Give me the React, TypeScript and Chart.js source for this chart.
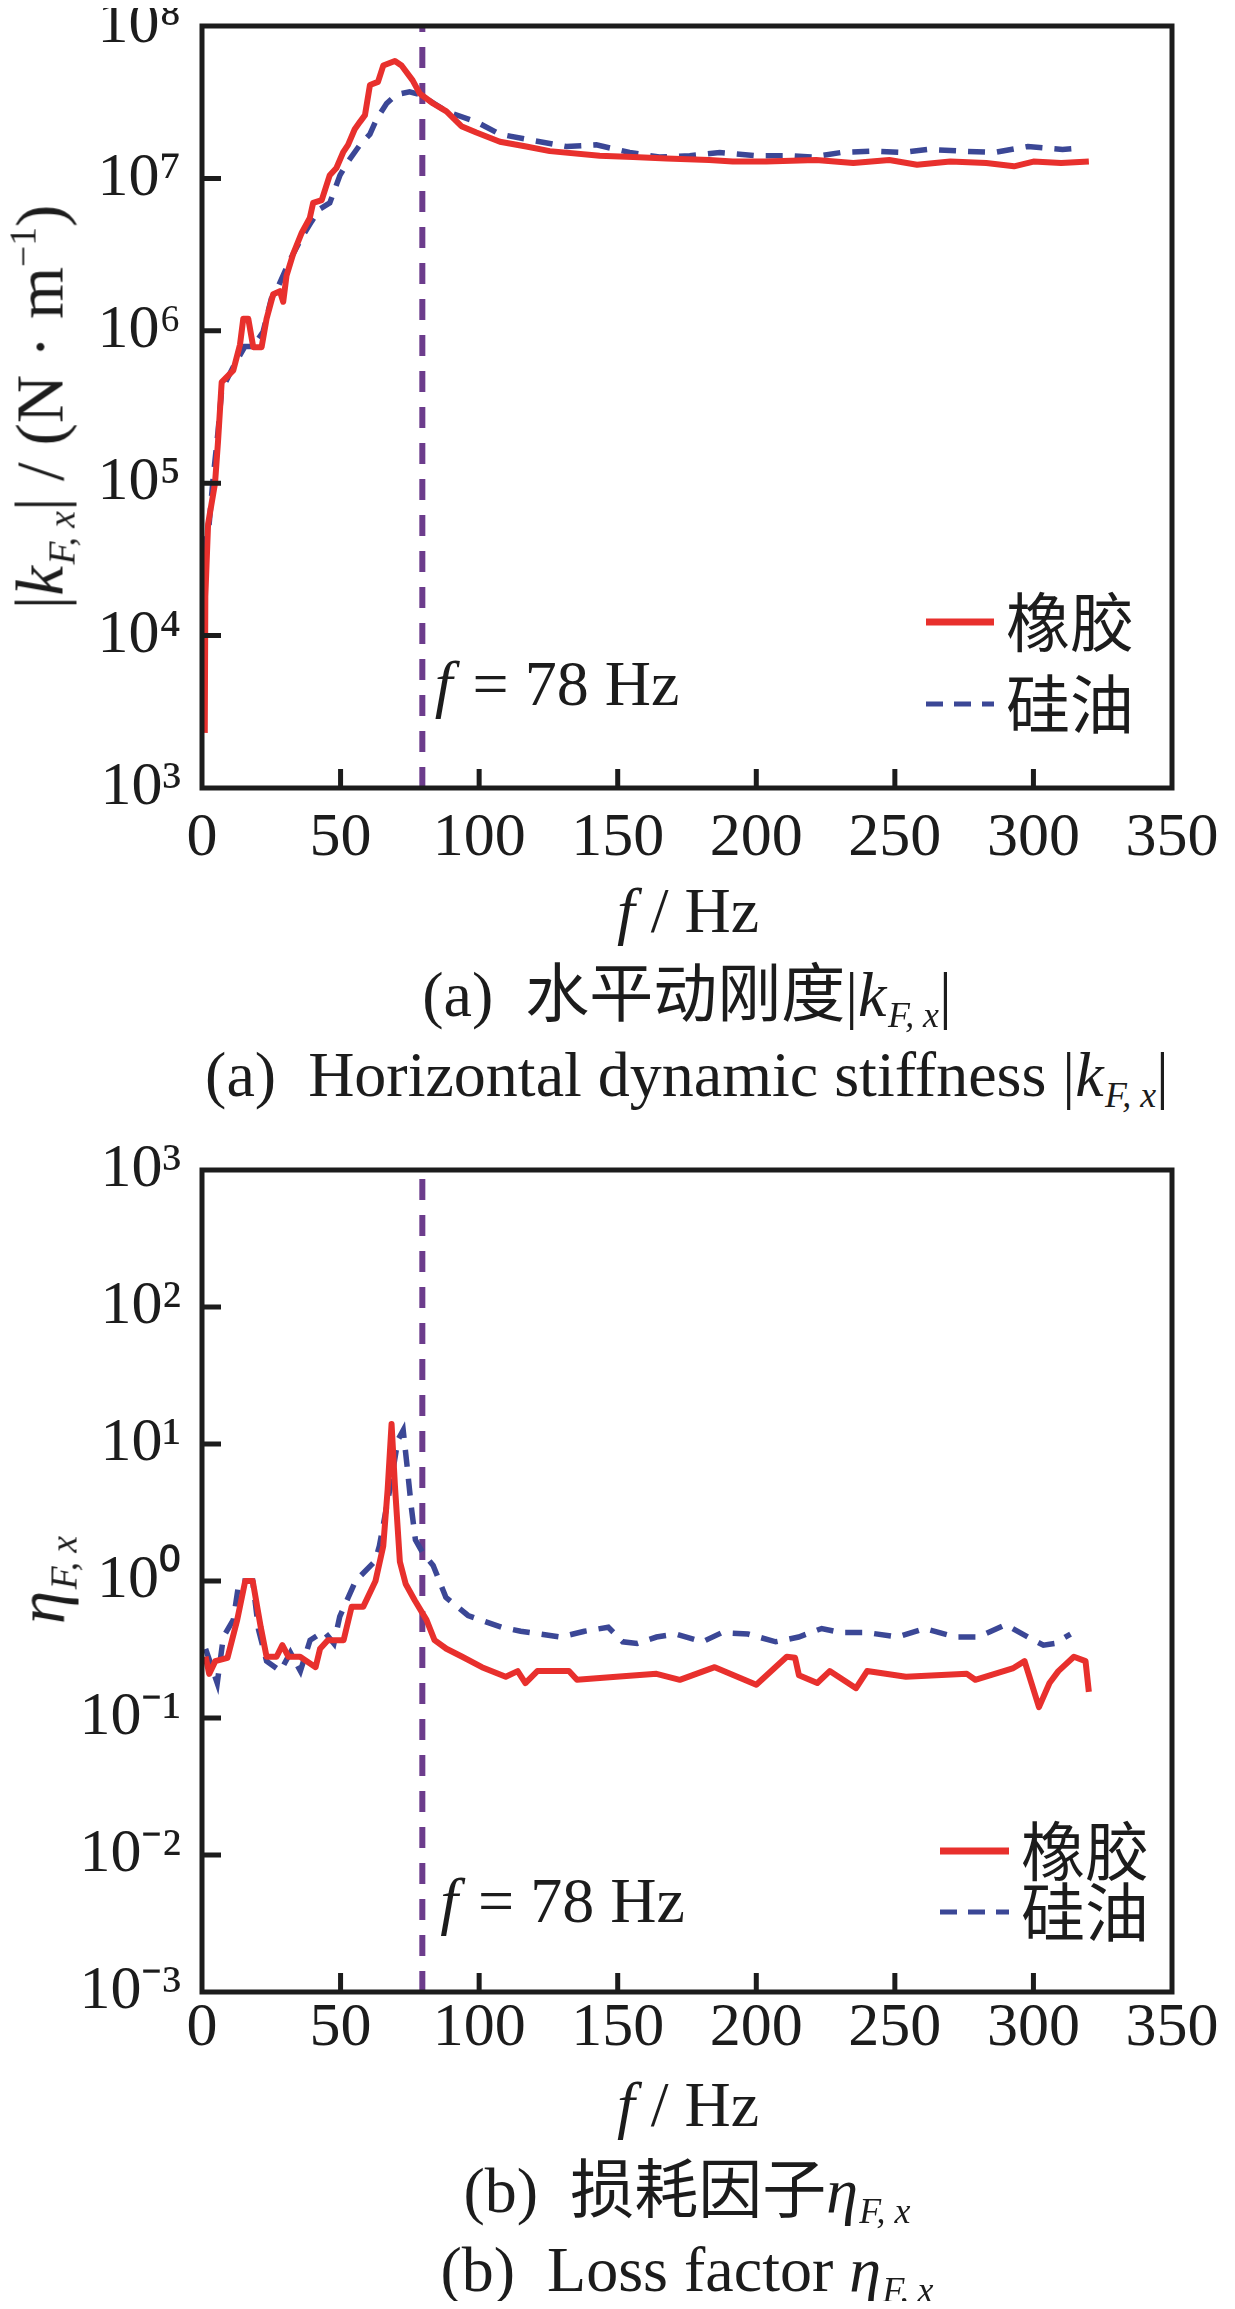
import React, { useEffect, useRef } from 'react';
import { Chart, registerables } from 'chart.js';

Chart.register(...registerables);

// ---------------- data ----------------
const freqTicks = [0, 50, 100, 150, 200, 250, 300, 350];
const stiffnessTicks = [1e3, 1e4, 1e5, 1e6, 1e7, 1e8];
const lossTicks = [1e-3, 1e-2, 1e-1, 1e0, 1e1, 1e2, 1e3];
const seriesNames = ['橡胶', '硅油'];
const resonanceFreq = [79.5];
const resonanceLabel = '78';

// (a) horizontal dynamic stiffness |k_F,x| (N/m)
const rubberStiffFreq = [1.0, 1.2, 2.2, 4.7, 5.8, 7.1, 11.3, 13.7, 14.9, 16.7, 18.5, 21.5, 23.3, 25.7, 28.1, 29.3, 30.5, 32.9, 36, 38.9, 40.1, 43.2, 46.1, 48.5, 50.9, 52.7, 55.1, 57, 58.8, 60.6, 63.5, 65.4, 69.6, 72, 76, 78.6, 83.4, 88.2, 93.6, 99, 107.5, 117, 125.5, 143.5, 155.5, 167.6, 183, 191.5, 203.6, 221.6, 235, 248, 258, 270, 283, 293, 300, 310, 320];
const rubberStiffValue = [2.3e3, 1.8e4, 5.4e4, 1.0e5, 1.9e5, 4.6e5, 5.5e5, 8.1e5, 1.2e6, 1.2e6, 7.8e5, 7.8e5, 1.2e6, 1.74e6, 1.82e6, 1.55e6, 2.3e6, 3.2e6, 4.4e6, 5.5e6, 6.9e6, 7.2e6, 1.05e7, 1.17e7, 1.48e7, 1.66e7, 2.1e7, 2.35e7, 2.6e7, 4.1e7, 4.3e7, 5.5e7, 5.9e7, 5.5e7, 4.4e7, 3.6e7, 3.1e7, 2.75e7, 2.2e7, 2.0e7, 1.74e7, 1.62e7, 1.51e7, 1.41e7, 1.38e7, 1.35e7, 1.32e7, 1.29e7, 1.29e7, 1.32e7, 1.26e7, 1.32e7, 1.23e7, 1.29e7, 1.26e7, 1.2e7, 1.29e7, 1.26e7, 1.29e7];
const oilStiffFreq = [0.6, 0.9, 2.5, 4.0, 5.8, 7.1, 11.3, 15.5, 18.5, 22, 25, 27.5, 31.7, 36, 39.5, 42.5, 46.1, 49.8, 52.7, 57, 60.6, 63, 66.6, 70.2, 74.9, 78.6, 88.2, 99, 107.5, 119, 131.5, 142.3, 154.3, 165, 176, 186.8, 200, 212, 220, 230.8, 241.6, 252.4, 262, 274, 286, 298, 310.5, 316];
const oilStiffValue = [2.5e3, 4.0e4, 5.2e4, 1.07e5, 2.2e5, 4.1e5, 5.8e5, 7.9e5, 7.9e5, 9.8e5, 1.62e6, 1.95e6, 2.9e6, 4.1e6, 5.2e6, 6.3e6, 6.9e6, 1.05e7, 1.29e7, 1.66e7, 1.95e7, 2.45e7, 3.1e7, 3.55e7, 3.7e7, 3.55e7, 2.75e7, 2.35e7, 1.95e7, 1.78e7, 1.62e7, 1.66e7, 1.48e7, 1.38e7, 1.41e7, 1.48e7, 1.41e7, 1.41e7, 1.38e7, 1.48e7, 1.51e7, 1.48e7, 1.55e7, 1.51e7, 1.48e7, 1.62e7, 1.55e7, 1.58e7];

// (b) loss factor eta_F,x
const rubberLossFreq = [1.3, 2.6, 4.8, 9.2, 12.7, 15.6, 18.3, 21.2, 23.3, 26.9, 29, 31.2, 35.4, 41, 42.6, 45.4, 51.1, 54, 58.2, 62.6, 65.4, 67, 68.4, 69.6, 71.4, 73.5, 76.8, 81, 83.9, 88.2, 93.9, 101, 109.6, 113.9, 116.7, 121, 132.4, 135.3, 149.5, 164, 172.4, 185, 200, 211, 214, 215.4, 222, 226.5, 236, 240, 254, 276, 279, 292.5, 296.8, 302, 305.8, 309, 314.6, 318.8, 320];
const rubberLossValue = [0.28, 0.21, 0.26, 0.275, 0.52, 1.0, 1.0, 0.46, 0.28, 0.28, 0.34, 0.28, 0.28, 0.235, 0.32, 0.37, 0.37, 0.65, 0.65, 1.0, 1.8, 4.7, 14, 5.0, 1.38, 0.95, 0.72, 0.52, 0.37, 0.32, 0.28, 0.235, 0.2, 0.22, 0.18, 0.22, 0.22, 0.19, 0.2, 0.21, 0.19, 0.235, 0.175, 0.28, 0.275, 0.205, 0.18, 0.22, 0.165, 0.22, 0.2, 0.21, 0.19, 0.23, 0.26, 0.12, 0.18, 0.22, 0.28, 0.26, 0.155];
const oilLossFreq = [1.3, 5.5, 7.7, 11.3, 13.4, 18.3, 20.4, 23.3, 28.3, 31.9, 35.5, 39, 44, 47.6, 49.7, 55.4, 62.5, 64, 67.8, 70.7, 72.6, 74, 75.5, 77, 79.7, 83.4, 88, 96, 108, 115, 129.5, 138, 146.6, 151.8, 157, 164, 171, 180.6, 187.6, 197, 207, 215.3, 223.6, 230.5, 240, 251, 260.7, 272, 280, 290, 298, 303.6, 307.6, 313.4];
const oilLossValue = [0.32, 0.18, 0.39, 0.52, 1.0, 1.0, 0.44, 0.26, 0.22, 0.3, 0.22, 0.37, 0.43, 0.35, 0.55, 1.0, 1.4, 1.8, 4.7, 10.7, 12.6, 6.9, 3.5, 2.0, 1.6, 1.3, 0.76, 0.56, 0.46, 0.43, 0.39, 0.43, 0.46, 0.36, 0.35, 0.39, 0.41, 0.36, 0.42, 0.41, 0.36, 0.39, 0.45, 0.42, 0.42, 0.39, 0.45, 0.39, 0.39, 0.48, 0.39, 0.34, 0.35, 0.41];

// ---------------- styling ----------------
const INK = '#1c1c1c';
const RED = '#e8302d';
const BLUE = '#3b4796';
const PURPLE = '#6c3c8c';
const SERIF = "'Liberation Serif', 'Times New Roman', serif";
const CJK = "'Noto Sans CJK SC', 'Noto Sans CJK JP', sans-serif";

Chart.defaults.font.family = SERIF;

const SUP: Record<string, string> = { '-': '⁻', '0': '⁰', '1': '¹', '2': '²', '3': '³', '4': '⁴', '5': '⁵', '6': '⁶', '7': '⁷', '8': '⁸', '9': '⁹' };
const pow10 = (v: number) => {
  const e = Math.round(Math.log10(v));
  return '10' + String(e).split('').map((c) => SUP[c]).join('');
};
const toPoints = (f: number[], v: number[]) => f.map((x, i) => ({ x, y: v[i] }));

type PanelCfg = {
  pageTop: number;
  canvasH: number;
  padTop: number;
  axisH: number;
  xLabelPad: number;
  yMin: number;
  yMax: number;
  yTicks: number[];
  rubber: { f: number[]; v: number[] };
  oil: { f: number[]; v: number[] };
  legend: { x0: number; x1: number; tx: number; r1: number; r2: number };
  note: { f: number; v: number };
};

const topCfg: PanelCfg = {
  pageTop: 0,
  canvasH: 900,
  padTop: 26,
  axisH: 112,
  xLabelPad: 20,
  yMin: 1e3,
  yMax: 1e8,
  yTicks: stiffnessTicks,
  rubber: { f: rubberStiffFreq, v: rubberStiffValue },
  oil: { f: oilStiffFreq, v: oilStiffValue },
  legend: { x0: 246, x1: 178, tx: 166, r1: 166, r2: 84 },
  note: { f: 84, v: 4900 },
};

const bottomCfg: PanelCfg = {
  pageTop: 1130,
  canvasH: 960,
  padTop: 40,
  axisH: 98,
  xLabelPad: 6,
  yMin: 1e-3,
  yMax: 1e3,
  yTicks: lossTicks,
  rubber: { f: rubberLossFreq, v: rubberLossValue },
  oil: { f: oilLossFreq, v: oilLossValue },
  legend: { x0: 232, x1: 163, tx: 151, r1: 141, r2: 80 },
  note: { f: 86, v: 0.0047 },
};

function decorPlugin(cfg: PanelCfg) {
  return {
    id: 'decor',
    afterDatasetsDraw(chart: any) {
      const { ctx, chartArea: a } = chart;
      const xs = chart.scales.x;
      const ys = chart.scales.y;
      ctx.save();
      ctx.setLineDash([]);
      ctx.strokeStyle = INK;
      ctx.lineWidth = 5;
      ctx.lineCap = 'butt';
      ctx.beginPath();
      cfg.yTicks.slice(1, -1).forEach((v) => {
        const y = ys.getPixelForValue(v);
        ctx.moveTo(a.left, y);
        ctx.lineTo(a.left + 19, y);
      });
      freqTicks.slice(1, -1).forEach((v) => {
        const x = xs.getPixelForValue(v);
        ctx.moveTo(x, a.bottom);
        ctx.lineTo(x, a.bottom - 19);
      });
      ctx.stroke();
      ctx.strokeRect(a.left, a.top, a.right - a.left, a.bottom - a.top);

      // legend
      const L = cfg.legend;
      ctx.lineWidth = 7;
      ctx.strokeStyle = RED;
      ctx.beginPath();
      ctx.moveTo(a.right - L.x0, a.bottom - L.r1);
      ctx.lineTo(a.right - L.x1, a.bottom - L.r1);
      ctx.stroke();
      ctx.lineWidth = 5;
      ctx.strokeStyle = BLUE;
      ctx.setLineDash([17, 11]);
      ctx.beginPath();
      ctx.moveTo(a.right - L.x0, a.bottom - L.r2);
      ctx.lineTo(a.right - L.x1, a.bottom - L.r2);
      ctx.stroke();
      ctx.setLineDash([]);
      ctx.fillStyle = INK;
      ctx.font = `64px ${CJK}`;
      ctx.textBaseline = 'middle';
      ctx.textAlign = 'left';
      ctx.fillText(seriesNames[0], a.right - L.tx, a.bottom - L.r1);
      ctx.fillText(seriesNames[1], a.right - L.tx, a.bottom - L.r2);

      // resonance annotation
      const nx = xs.getPixelForValue(cfg.note.f);
      const ny = ys.getPixelForValue(cfg.note.v);
      ctx.textBaseline = 'alphabetic';
      ctx.font = `italic 64px ${SERIF}`;
      ctx.fillText('f', nx, ny + 22);
      const w = ctx.measureText('f').width;
      ctx.font = `64px ${SERIF}`;
      ctx.fillText(` = ${resonanceLabel} Hz`, nx + w + 4, ny + 22);
      ctx.restore();
    },
  };
}

function Panel({ cfg }: { cfg: PanelCfg }) {
  const ref = useRef<HTMLCanvasElement>(null);
  useEffect(() => {
    const canvas = ref.current;
    if (!canvas) return;
    const chart = new Chart(canvas, {
      type: 'line',
      data: {
        datasets: [
          {
            label: seriesNames[0],
            data: toPoints(cfg.rubber.f, cfg.rubber.v),
            borderColor: RED,
            borderWidth: 6,
            pointRadius: 0,
            tension: 0,
            borderJoinStyle: 'round',
            order: 1,
          },
          {
            label: seriesNames[1],
            data: toPoints(cfg.oil.f, cfg.oil.v),
            borderColor: BLUE,
            borderWidth: 5.5,
            borderDash: [17, 12],
            pointRadius: 0,
            tension: 0,
            order: 2,
          },
          {
            label: 'f0',
            data: [
              { x: resonanceFreq[0], y: cfg.yMin },
              { x: resonanceFreq[0], y: cfg.yMax },
            ],
            borderColor: PURPLE,
            borderWidth: 6,
            borderDash: [21, 15],
            pointRadius: 0,
            order: 3,
          },
        ],
      },
      options: {
        responsive: false,
        maintainAspectRatio: false,
        animation: false,
        events: [],
        layout: { padding: { top: cfg.padTop, right: 63, left: 0, bottom: 0 } },
        plugins: {
          legend: { display: false },
          tooltip: { enabled: false },
          title: { display: false },
        },
        scales: {
          x: {
            type: 'linear',
            min: 0,
            max: 350,
            afterBuildTicks: (s: any) => {
              s.ticks = freqTicks.map((v) => ({ value: v }));
            },
            afterFit: (s: any) => {
              s.height = cfg.axisH;
              s.paddingLeft = 0;
              s.paddingRight = 0;
            },
            grid: { display: false, drawTicks: false },
            border: { display: false },
            ticks: {
              autoSkip: false,
              maxRotation: 0,
              color: INK,
              padding: cfg.xLabelPad,
              font: { family: SERIF, size: 62, lineHeight: 1 },
              callback: (v: any) => String(v),
            },
          },
          y: {
            type: 'logarithmic',
            min: cfg.yMin,
            max: cfg.yMax,
            afterBuildTicks: (s: any) => {
              s.ticks = cfg.yTicks.map((v) => ({ value: v }));
            },
            afterFit: (s: any) => {
              s.width = 202;
              s.paddingTop = 0;
              s.paddingBottom = 0;
            },
            grid: { display: false, drawTicks: false },
            border: { display: false },
            ticks: {
              autoSkip: false,
              color: INK,
              padding: 21,
              font: { family: SERIF, size: 62, lineHeight: 1 },
              callback: (v: any) => pow10(Number(v)),
            },
          },
        },
      } as any,
      plugins: [decorPlugin(cfg)],
    });
    return () => chart.destroy();
  }, [cfg]);
  return (
    <canvas
      ref={ref}
      width={1235}
      height={cfg.canvasH}
      style={{ position: 'absolute', left: -8, top: cfg.pageTop - 8, width: 1235, height: cfg.canvasH }}
    />
  );
}

function Sub({ children }: { children: React.ReactNode }) {
  return (
    <span style={{ fontSize: '0.56em', fontStyle: 'italic', position: 'relative', top: '0.32em', marginLeft: '0.04em' }}>
      {children}
    </span>
  );
}
function Sup({ children }: { children: React.ReactNode }) {
  return <span style={{ fontSize: '0.56em', position: 'relative', top: '-0.72em' }}>{children}</span>;
}
function Cjk({ children }: { children: React.ReactNode }) {
  return <span style={{ fontFamily: CJK }}>{children}</span>;
}

function Label({ x, y, size, rotate, children }: { x: number; y: number; size: number; rotate?: boolean; children: React.ReactNode }) {
  return (
    <div
      style={{
        position: 'absolute',
        left: x - 8,
        top: y - 8,
        transform: `translate(-50%, -50%)${rotate ? ' rotate(-90deg)' : ''}`,
        fontFamily: SERIF,
        fontSize: size,
        lineHeight: 1,
        whiteSpace: 'pre',
        color: INK,
      }}
    >
      {children}
    </div>
  );
}

export default function App() {
  return (
    <div style={{ position: 'relative', width: 1219, height: 2293, background: '#fff' }}>
      <Panel cfg={topCfg} />
      <Panel cfg={bottomCfg} />

      <Label x={40} y={407} size={67} rotate>
        |<i>k</i>
        <Sub>F, x</Sub>| / (N · m<Sup>−1</Sup>)
      </Label>
      <Label x={688} y={911} size={64}>
        <i>f</i> / Hz
      </Label>
      <Label x={687} y={991} size={64}>
        {'(a)  '}
        <Cjk>水平动刚度</Cjk>|<i>k</i>
        <Sub>F, x</Sub>|
      </Label>
      <Label x={687} y={1075} size={64}>
        {'(a)  Horizontal dynamic stiffness |'}
        <i>k</i>
        <Sub>F, x</Sub>|
      </Label>

      <Label x={42} y={1580} size={67} rotate>
        <i>η</i>
        <Sub>F, x</Sub>
      </Label>
      <Label x={688} y={2105} size={64}>
        <i>f</i> / Hz
      </Label>
      <Label x={687} y={2187} size={64}>
        {'(b)  '}
        <Cjk>损耗因子</Cjk>
        <i>η</i>
        <Sub>F, x</Sub>
      </Label>
      <Label x={687} y={2270} size={64}>
        {'(b)  Loss factor '}
        <i>η</i>
        <Sub>F, x</Sub>
      </Label>
    </div>
  );
}
